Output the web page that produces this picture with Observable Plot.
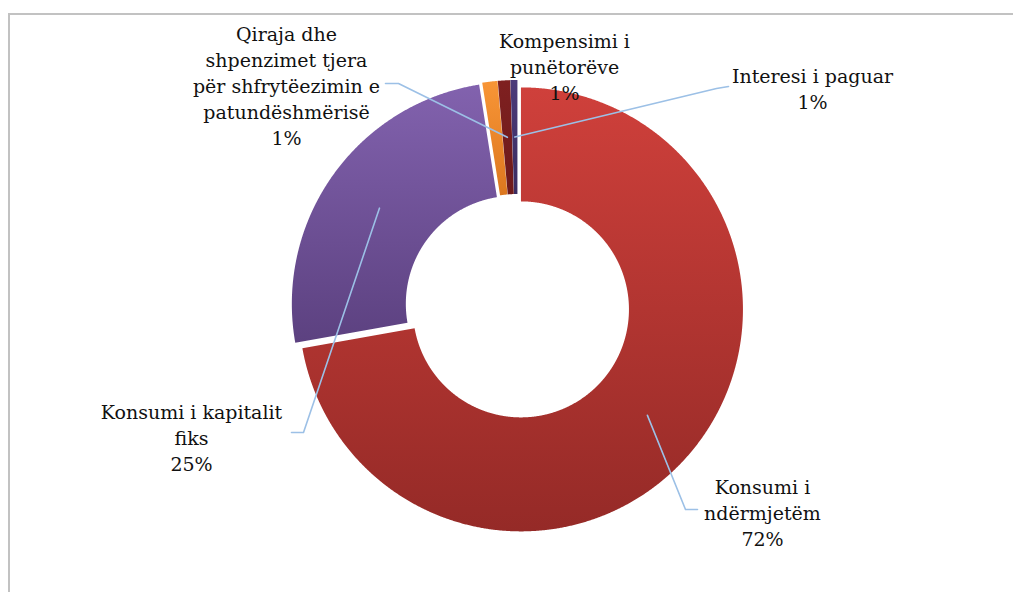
<!DOCTYPE html>
<html><head><meta charset="utf-8">
<script src="https://cdn.jsdelivr.net/npm/d3@7"></script>
<script src="https://cdn.jsdelivr.net/npm/@observablehq/plot@0.6"></script>
<style>
html,body{margin:0;padding:0;background:#fff;overflow:hidden}
#wrap{position:relative;width:1013px;height:592px;overflow:hidden}
#frame{position:absolute;left:8px;top:13px;width:1100px;height:700px;border-left:2px solid #c2c2c2;border-top:2px solid #c2c2c2;pointer-events:none}
#chart{position:absolute;left:0;top:0}
#chart svg text{font-family:"DejaVu Serif",serif !important}
</style></head><body>
<div id="wrap"><div id="frame"></div><div id="chart"></div></div>
<script>
// ---- data ----
const categories = ["Konsumi i ndërmjetëm", "Konsumi i kapitalit fiks", "Kompensimi i punëtorëve", "Qiraja dhe shpenzimet tjera për shfrytëezimin e patundëshmërisë", "Interesi i paguar"];
const values = [72.2, 25.3, 1.1, 0.9, 0.5];
const percentLabels = ["72%", "25%", "1%", "1%", "1%"];
const labelLines = [["Konsumi i", "ndërmjetëm"], ["Konsumi i kapitalit", "fiks"], ["Kompensimi i", "punëtorëve"], ["Qiraja dhe", "shpenzimet tjera", "për shfrytëezimin e", "patundëshmërisë"], ["Interesi i paguar"]];
const colorsTop = ["#cf403b", "#8262ae", "#f89536", "#7f2020", "#4c3b7a"];
const colorsBottom = ["#952a27", "#5c4180", "#dc771f", "#6d1a1b", "#3a2c60"];

// ---- layout ----
const W = 1013, H = 592;
const cx = 517, cy = 306, R = 222, R0 = 108, explode = 4.5;
const labelPos = [[762, 511], [191, 436], [564, 65.5], [286, 84.5], [812, 87]];
const leaderOuter = [[[697, 509], [685, 509]], [[291, 432], [303, 432]], null, [[385, 83], [398, 83]], [[728, 86], [716, 88]]];

const total = d3.sum(values);
let acc = 0;
const slices = values.map((v, i) => {
  const a0 = acc / total * 2 * Math.PI;
  acc += v;
  const a1 = acc / total * 2 * Math.PI;
  const mid = (a0 + a1) / 2;
  const ox = cx + explode * Math.sin(mid), oy = cy - explode * Math.cos(mid);
  const n = Math.max(4, Math.ceil((a1 - a0) / (Math.PI / 720)));
  const pts = [];
  for (let k = 0; k <= n; k++) { const a = a0 + (a1 - a0) * k / n; pts.push({x: ox + R * Math.sin(a), y: oy - R * Math.cos(a)}); }
  for (let k = n; k >= 0; k--) { const a = a0 + (a1 - a0) * k / n; pts.push({x: ox + R0 * Math.sin(a), y: oy - R0 * Math.cos(a)}); }
  const rm = (R + R0) / 2;
  const anchor = {x: ox + rm * Math.sin(mid), y: oy - rm * Math.cos(mid)};
  return {i, pts, anchor};
});

const leaders = [];
slices.forEach((s, i) => {
  if (!leaderOuter[i]) return;
  leaderOuter[i].forEach(p => leaders.push({i, x: p[0], y: p[1]}));
  leaders.push({i, x: s.anchor.x, y: s.anchor.y});
});

const labels = categories.map((c, i) => ({
  x: labelPos[i][0], y: labelPos[i][1],
  text: labelLines[i].concat([percentLabels[i]]).join("\n")
}));

const chart = Plot.plot({
  width: W, height: H,
  marginTop: 0, marginRight: 0, marginBottom: 0, marginLeft: 0,
  x: {domain: [0, W], range: [0, W], axis: null},
  y: {domain: [0, H], range: [0, H], axis: null},
  style: {background: "transparent"},
  marks: [
    ...slices.map(s => Plot.line(s.pts, {x: "x", y: "y", fill: `url(#g${s.i})`, stroke: "none"})),
    Plot.line(leaders, {x: "x", y: "y", z: "i", stroke: "#9cc0e6", strokeWidth: 1.6}),
    Plot.text(labels, {x: "x", y: "y", text: "text", fontSize: 19, fontFamily: "DejaVu Serif", lineHeight: 1.37, lineAnchor: "middle", textAnchor: "middle", fill: "#111"})
  ]
});

const svg = d3.select(chart);
const defs = svg.insert("defs", ":first-child");
colorsTop.forEach((c, i) => {
  const g = defs.append("linearGradient").attr("id", `g${i}`).attr("x1", 0).attr("y1", 0).attr("x2", 0).attr("y2", 1);
  g.append("stop").attr("offset", "0%").attr("stop-color", c);
  g.append("stop").attr("offset", "100%").attr("stop-color", colorsBottom[i]);
});
document.getElementById("chart").appendChild(chart);
</script>
</body></html>
